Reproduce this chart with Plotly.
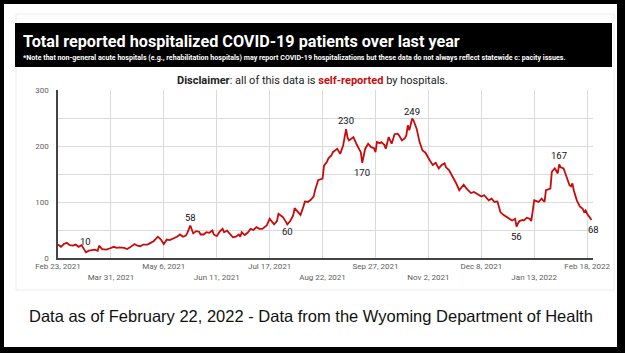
import plotly.graph_objects as go
import pandas as pd

# ---------------- data ----------------
start_date = "2021-02-23"
day_index = [0, 2, 4, 6, 8, 10, 12, 14, 16, 17, 19, 21, 23, 25, 27, 28, 30, 33, 35, 38,
             40, 42, 45, 47, 49, 52, 54, 56, 58, 61, 63, 65, 68, 70, 72, 74, 76, 79, 81, 83,
             85, 87, 88, 90, 92, 94, 96, 97, 99, 101, 103, 105, 106, 108, 110, 112, 113, 115, 117, 119,
             121, 123, 124, 125, 127, 129, 131, 133, 135, 137, 139, 141, 142, 144, 146, 147, 149, 150, 152, 153,
             155, 156, 158, 160, 161, 163, 165, 167, 168, 170, 172, 174, 175, 177, 179, 180, 181, 183, 184, 186,
             187, 189, 190, 192, 194, 196, 197, 198, 200, 201, 203, 205, 206, 207, 208, 209, 211, 213, 215, 216,
             217, 219, 220, 222, 223, 225, 227, 229, 231, 232, 234, 236, 237, 238, 239, 241, 242, 243, 244, 246,
             248, 250, 251, 253, 255, 257, 259, 261, 263, 264, 266, 268, 270, 271, 273, 275, 276, 278, 279, 281,
             283, 285, 287, 288, 290, 292, 293, 295, 297, 299, 300, 301, 303, 305, 306, 308, 309, 311, 312, 313,
             314, 316, 317, 319, 321, 322, 324, 326, 327, 329, 331, 332, 334, 335, 336, 338, 340, 341, 342, 344,
             346, 348, 349, 350, 351, 353, 355, 356, 357, 358, 359, 360, 361, 362, 363]
patients = [24, 20, 25, 27, 23, 22, 24, 20, 23, 18, 10, 13, 14, 15, 13, 22, 16, 15, 17, 20,
            18, 19, 18, 16, 19, 25, 22, 21, 24, 24, 27, 30, 38, 33, 25, 33, 32, 35, 38, 42,
            38, 40, 45, 58, 44, 48, 47, 42, 42, 46, 45, 49, 42, 39, 47, 52, 46, 49, 42, 37,
            38, 42, 38, 46, 41, 45, 52, 50, 55, 52, 52, 55, 58, 70, 62, 60, 66, 79, 75, 73,
            65, 60, 66, 76, 89, 82, 77, 92, 101, 100, 104, 110, 122, 139, 141, 142, 165, 172, 178, 183,
            189, 192, 195, 186, 201, 230, 215, 210, 214, 216, 204, 195, 189, 170, 183, 195, 204, 198, 196, 189,
            207, 205, 207, 202, 195, 216, 204, 221, 222, 219, 210, 214, 219, 237, 228, 249, 245, 237, 231, 207,
            192, 188, 183, 174, 166, 170, 160, 166, 169, 162, 157, 148, 140, 133, 121, 127, 131, 124, 121, 116,
            118, 115, 112, 110, 112, 107, 103, 106, 100, 101, 92, 82, 77, 74, 73, 70, 67, 70, 56, 62,
            66, 68, 67, 72, 70, 66, 103, 101, 100, 106, 100, 121, 124, 124, 154, 160, 151, 167, 162, 160,
            145, 130, 128, 133, 120, 103, 92, 90, 88, 82, 85, 79, 76, 72, 68]

tick_days = [0, 36, 72, 108, 144, 180, 216, 252, 288, 324, 360]
tick_labels = ["Feb 23, 2021", "Mar 31, 2021", "May 6, 2021", "Jun 11, 2021", "Jul 17, 2021",
               "Aug 22, 2021", "Sep 27, 2021", "Nov 2, 2021", "Dec 8, 2021", "Jan 13, 2022",
               "Feb 18, 2022"]
y_ticks = [0, 100, 200, 300]
labeled_days = [19, 90, 156, 196, 207, 241, 312, 341, 363]

title_text = "Total reported hospitalized COVID-19 patients over last year"
note_text = ("*Note that non-general acute hospitals (e.g., rehabilitation hospitals) may report "
             "COVID-19 hospitalizations but these data do not always reflect statewide c: pacity issues.")
caption_text = "Data as of February 22, 2022 - Data from the Wyoming Department of Health"

# ---------------- styling / layout ----------------
W, H = 625, 353
ML, MR, MT, MB = 58, 32, 90, 95
PW, PH = W - ML - MR, H - MT - MB

def X(px):
    return (px - ML) / PW

def Y(py):
    return (H - MB - py) / PH

start = pd.Timestamp(start_date)
dates = [start + pd.Timedelta(days=d) for d in day_index]
tick_dates = [start + pd.Timedelta(days=d) for d in tick_days]
stag_text = [t if i % 2 == 0 else "<br>" + t for i, t in enumerate(tick_labels)]
x_end = start + pd.Timedelta(days=364)

RED = "#c80a0a"
FONT = "Roboto, Arial, sans-serif"

fig = go.Figure()
fig.add_trace(go.Scatter(x=dates, y=patients, mode="lines",
                         line=dict(color=RED, width=1.8), hoverinfo="skip",
                         showlegend=False))

label_shift = [11, 8, -7, 9, -10, 7, -10, 9, -10]
label_xshift = [0, 0, 0, 0, 0, 0, 0, 0, 2]
annotations = []
for d, ys, xs in zip(labeled_days, label_shift, label_xshift):
    i = day_index.index(d)
    annotations.append(dict(x=dates[i], y=patients[i], xref="x", yref="y",
                            text=str(patients[i]), showarrow=False, yshift=ys, xshift=xs,
                            font=dict(family=FONT, size=9.5, color="#111")))

annotations += [
    dict(x=X(21), y=Y(42), xref="paper", yref="paper", xanchor="left", yanchor="middle",
         text="<b>" + title_text + "</b>", showarrow=False,
         font=dict(family=FONT, size=16.2, color="white")),
    dict(x=X(21), y=Y(57.5), xref="paper", yref="paper", xanchor="left", yanchor="middle",
         text="<b>" + note_text + "</b>", showarrow=False,
         font=dict(family=FONT, size=7.1, color="white")),
    dict(x=X(312), y=Y(80), xref="paper", yref="paper", xanchor="center", yanchor="middle",
         text="<b>Disclaimer</b>: all of this data is <b><span style='color:" + RED +
              "'>self-reported</span></b> by hospitals.",
         showarrow=False, font=dict(family=FONT, size=11, color="#222")),
    dict(x=X(311), y=Y(316), xref="paper", yref="paper", xanchor="center", yanchor="middle",
         text=caption_text, showarrow=False,
         font=dict(family="Liberation Sans, Arial, sans-serif", size=16.5, color="#111")),
]

shapes = [
    dict(type="rect", xref="paper", yref="paper", x0=X(4), x1=X(617), y0=Y(347), y1=Y(4),
         fillcolor="white", line=dict(width=0), layer="below"),
    dict(type="rect", xref="paper", yref="paper", x0=X(16), x1=X(614), y0=Y(290), y1=Y(14),
         fillcolor="rgba(0,0,0,0)", line=dict(color="#ececec", width=1), layer="below"),
    dict(type="rect", xref="paper", yref="paper", x0=X(15), x1=X(612), y0=Y(67), y1=Y(23),
         fillcolor="black", line=dict(width=0), layer="below"),
]

fig.update_layout(
    width=W, height=H, margin=dict(l=ML, r=MR, t=MT, b=MB, pad=0),
    paper_bgcolor="black", plot_bgcolor="white",
    annotations=annotations, shapes=shapes, showlegend=False,
    xaxis=dict(range=[start, x_end], tickmode="array", tickvals=tick_dates, ticktext=stag_text,
               showgrid=True, gridcolor="#dadada", gridwidth=1,
               showline=True, linecolor="#444", linewidth=1.5, ticks="", zeroline=False,
               tickfont=dict(family=FONT, size=8, color="#606060"), tickangle=0),
    yaxis=dict(range=[0, 300], tickmode="array", tickvals=y_ticks,
               showgrid=True, gridcolor="#dadada", gridwidth=1,
               minor=dict(dtick=50, showgrid=True, gridcolor="#dadada", gridwidth=1),
               showline=True, linecolor="#444", linewidth=1.5, ticks="", zeroline=False,
               ticklabelstandoff=6,
               tickfont=dict(family=FONT, size=8, color="#606060")),
)

fig.write_html("out.html")
